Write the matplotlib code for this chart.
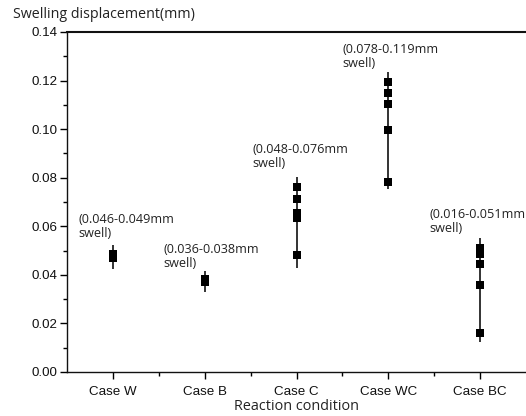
import matplotlib
matplotlib.use("Agg")
import matplotlib.pyplot as plt
from matplotlib.ticker import MultipleLocator, FixedLocator

cases = ["Case W", "Case B", "Case C", "Case WC", "Case BC"]
values = [
    [0.0469, 0.0486],
    [0.0371, 0.0381],
    [0.0483, 0.0634, 0.0655, 0.0714, 0.0760],
    [0.0784, 0.0996, 0.1104, 0.1148, 0.1193],
    [0.0162, 0.0357, 0.0445, 0.0486, 0.0511],
]
whisker_low = [0.0423, 0.0331, 0.0427, 0.0753, 0.0125]
whisker_high = [0.0523, 0.0417, 0.0802, 0.1237, 0.0550]
labels = ["(0.046-0.049mm\nswell)", "(0.036-0.038mm\nswell)", "(0.048-0.076mm\nswell)",
          "(0.078-0.119mm\nswell)", "(0.016-0.051mm\nswell)"]
label_x = [0.62, 1.554, 2.52, 3.497, 4.446]
label_y = [0.0601, 0.0474, 0.0889, 0.1301, 0.0618]

fig = plt.figure(figsize=(5.26, 4.16), dpi=100)
ax = fig.add_axes([67/526, 1-372/416, 1-67/526, (372-32)/416])

xs = list(range(1, len(cases)+1))
for x, vals, lo, hi in zip(xs, values, whisker_low, whisker_high):
    ax.vlines(x, lo, hi, color="#111111", lw=1.2, zorder=2)
    ax.plot([x]*len(vals), vals, ls="none", marker="s", ms=5.5, mew=0,
            color="#000000", zorder=3)

txtfont = ["Open Sans", "DejaVu Sans"]
for x, y, t in zip(label_x, label_y, labels):
    ax.text(x, y, t, ha="left", va="center", fontsize=9.1, family=txtfont,
            color="#222222", linespacing=1.1)

ax.set_xlim(0.5, 5.5)
ax.set_ylim(0, 0.14)
ax.set_xticks(xs)
ax.set_xticklabels(cases)
ax.xaxis.set_minor_locator(FixedLocator([1.5, 2.5, 3.5, 4.5]))
ax.yaxis.set_major_locator(MultipleLocator(0.02))
ax.yaxis.set_minor_locator(MultipleLocator(0.01))
ax.yaxis.set_major_formatter(matplotlib.ticker.FormatStrFormatter("%.2f"))

for lab in ax.get_xticklabels() + ax.get_yticklabels():
    lab.set_family(["Liberation Sans"])
    lab.set_fontsize(9.6)
    lab.set_color("#111111")

ax.tick_params(which="major", direction="out", length=5, width=1, top=False, right=False, pad=2)
ax.tick_params(axis="x", which="major", pad=5)
ax.tick_params(which="minor", direction="out", length=3, width=1, top=False, right=False)
ax.spines["right"].set_visible(False)
ax.spines["top"].set_linewidth(1.5)
ax.spines["left"].set_linewidth(1.0)
ax.spines["bottom"].set_linewidth(1.0)
for s in ax.spines.values():
    s.set_color("#111111")

fig.text(13/526, 1-14/416, "Swelling displacement(mm)", ha="left", va="center",
         fontsize=10.3, family=txtfont, color="#222222")
fig.text(297/526, 1-407/416, "Reaction condition", ha="center", va="center",
         fontsize=10.4, family=txtfont, color="#222222")

fig.savefig("out.png", dpi=100)
